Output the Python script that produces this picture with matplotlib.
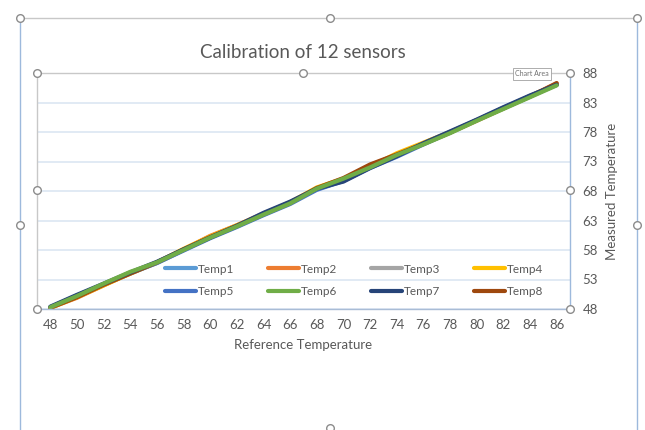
import numpy as np
import matplotlib
matplotlib.use('Agg')
import matplotlib.pyplot as plt
from matplotlib.lines import Line2D

plt.rcParams['font.family'] = ['Lato', 'DejaVu Sans']

## data
ref_temp = [48, 50, 52, 54, 56, 58, 60, 62, 64, 66, 68, 70, 72, 74, 76, 78, 80, 82, 84, 86]
temp1 = [48.3, 50.2, 52.1, 54.0, 55.8, 58.0, 60.1, 62.0, 64.1, 66.0, 68.3, 69.8, 72.0, 74.0, 76.0, 78.0, 80.0, 82.0, 84.0, 86.0]
temp2 = [48.2, 49.9, 52.0, 54.1, 55.9, 58.1, 60.4, 62.2, 64.2, 66.1, 68.5, 70.0, 72.4, 74.1, 76.0, 77.9, 79.9, 82.0, 84.1, 86.2]
temp3 = [48.3, 50.1, 52.1, 54.1, 55.8, 58.0, 60.2, 62.1, 64.0, 66.0, 68.4, 69.9, 72.2, 74.2, 76.1, 78.0, 80.0, 82.1, 84.0, 86.0]
temp4 = [48.2, 50.0, 52.0, 54.0, 55.9, 58.2, 60.3, 62.2, 64.1, 66.1, 68.6, 70.1, 72.1, 74.4, 76.2, 78.0, 80.0, 82.0, 84.1, 86.1]
temp5 = [48.3, 50.3, 52.2, 54.1, 55.8, 57.9, 60.0, 61.9, 63.9, 65.8, 68.2, 69.7, 71.9, 73.8, 75.9, 77.9, 80.0, 82.1, 84.1, 86.0]
temp6 = [48.3, 50.2, 52.3, 54.3, 55.9, 58.0, 60.1, 62.0, 64.0, 65.9, 68.4, 70.1, 72.0, 74.1, 75.9, 77.8, 79.9, 81.9, 83.9, 85.9]
temp7 = [48.4, 50.4, 52.3, 54.2, 56.0, 58.1, 60.1, 62.1, 64.3, 66.2, 68.4, 69.6, 71.9, 73.9, 76.1, 78.1, 80.1, 82.2, 84.2, 86.0]
temp8 = [48.2, 50.0, 52.1, 54.0, 55.9, 58.1, 60.2, 62.1, 64.1, 66.0, 68.5, 70.2, 72.5, 74.2, 76.0, 77.9, 80.0, 82.0, 84.0, 86.3]

series = [temp1, temp2, temp3, temp4, temp5, temp6, temp7, temp8]
names = ['Temp1', 'Temp2', 'Temp3', 'Temp4', 'Temp5', 'Temp6', 'Temp7', 'Temp8']
colors = ['#5B9BD5', '#ED7D31', '#A5A5A5', '#FFC000',
          '#4472C4', '#70AD47', '#264478', '#9E480E']
y_ticks = [48, 53, 58, 63, 68, 73, 78, 83, 88]

txt = '#595959'
W, H = 645, 430
fig = plt.figure(figsize=(6.45, 4.3), dpi=100)
ax = fig.add_axes([37 / W, 1 - 309 / H, (570 - 37) / W, (309 - 73) / H])

# draw order: green / dark blue end up on top like the Excel render
order = [0, 1, 2, 3, 4, 7, 6, 5]
handles = [None] * 8
for k, i in enumerate(order):
    l, = ax.plot(ref_temp, series[i], color=colors[i], lw=3,
                 solid_capstyle='round', zorder=3 + k)
    handles[i] = l

ax.set_xlim(47, 87)
ax.set_ylim(48, 88)
ax.set_xticks(ref_temp)
ax.set_yticks(y_ticks)
ax.yaxis.tick_right()
ax.yaxis.set_label_position('right')
ax.tick_params(axis='both', length=0, labelsize=9.5, colors=txt)
ax.tick_params(axis='x', pad=7)
ax.tick_params(axis='y', pad=9)
ax.yaxis.grid(True, color='#DCE6F2', lw=1.2, zorder=0)
for s in ['top', 'left', 'right', 'bottom']:
    ax.spines[s].set_visible(False)
ax.set_xlabel('Reference Temperature', color=txt, fontsize=9.5, labelpad=6)
ax.set_ylabel('Measured Temperature', color=txt, fontsize=9.5, labelpad=6)
fig.text(303 / W, 1 - 53 / H, 'Calibration of 12 sensors', ha='center',
         va='center', fontsize=13.5, color=txt)

# legend filled row by row (matplotlib fills columns first)
leg_idx = [0, 4, 1, 5, 2, 6, 3, 7]
leg = ax.legend([handles[i] for i in leg_idx], [names[i] for i in leg_idx],
                ncol=4, loc='center', frameon=False,
                bbox_to_anchor=(0.595, 0.122), fontsize=8.5, handlelength=2.6,
                columnspacing=2.9, handletextpad=0.15, labelspacing=0.95)
for t in leg.get_texts():
    t.set_color(txt)
for h in leg.legend_handles:
    h.set_linewidth(3)


# selection frames (Excel chart area / plot area)
def fx(x):
    return x / W


def fy(y):
    return 1 - y / H


fig.add_artist(Line2D([fx(20), fx(637)], [fy(18), fy(18)], color='#C8C8C8', lw=1))
fig.add_artist(Line2D([fx(20), fx(20)], [fy(18), fy(430)], color='#9DB9DC', lw=1))
fig.add_artist(Line2D([fx(637), fx(637)], [fy(18), fy(430)], color='#9DB9DC', lw=1))
fig.add_artist(Line2D([fx(37), fx(570)], [fy(73), fy(73)], color='#C8C8C8', lw=1))
fig.add_artist(Line2D([fx(37), fx(37)], [fy(73), fy(309)], color='#C8C8C8', lw=1))
fig.add_artist(Line2D([fx(570), fx(570)], [fy(73), fy(309)], color='#9DB9DC', lw=1))
fig.add_artist(Line2D([fx(37), fx(570)], [fy(309), fy(309)], color='#A9BCD6', lw=1))

hx = [20, 330, 637, 20, 637, 330, 37, 303, 570, 37, 570, 570, 37]
hy = [18, 18, 18, 225, 225, 428, 73, 73, 73, 190, 190, 309, 309]
for x, y in zip(hx, hy):
    fig.add_artist(Line2D([fx(x)], [fy(y)], marker='o', ms=5.5, mfc='white',
                          mec='#8C8C8C', mew=1, zorder=20))

fig.text(fx(532), fy(74), 'Chart Area', ha='center', va='center', fontsize=5,
         color='#707070', zorder=21,
         bbox=dict(boxstyle='square,pad=0.3', fc='white', ec='#A0A0A0', lw=0.6))

fig.savefig('out.png', dpi=100)
